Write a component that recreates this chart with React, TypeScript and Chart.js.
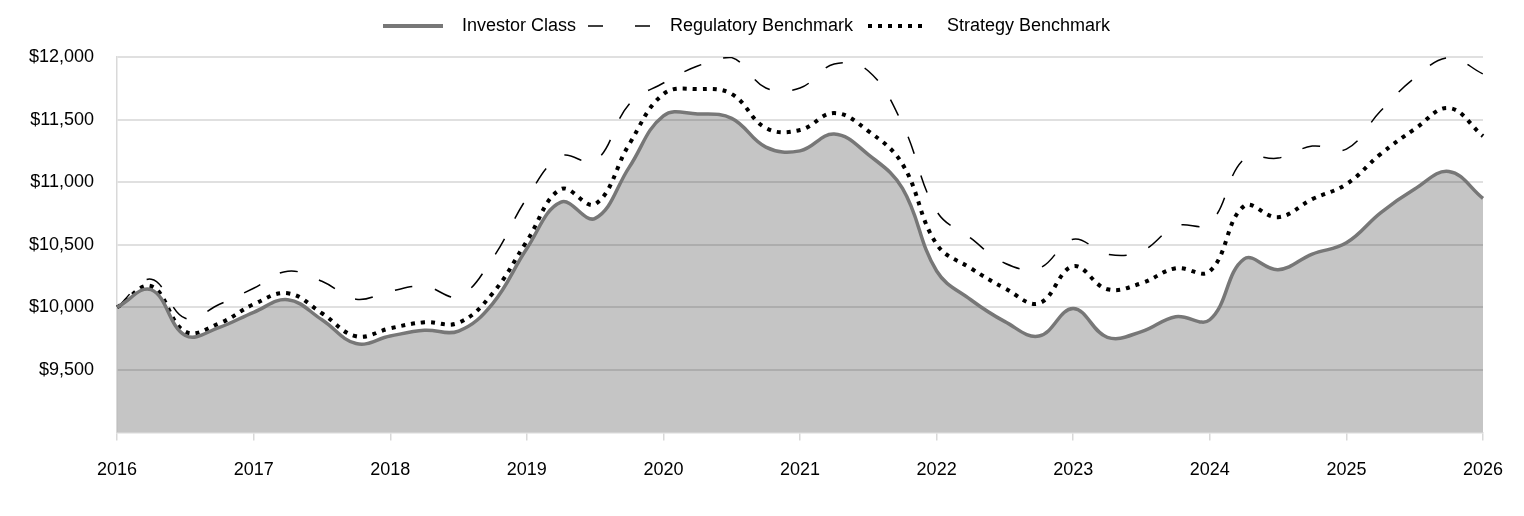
import React, { useEffect, useRef } from 'react';
import { Chart, registerables } from 'chart.js';

Chart.register(...registerables);

const quarters = [
  '2016-01', '2016-04', '2016-07', '2016-10',
  '2017-01', '2017-04', '2017-07', '2017-10',
  '2018-01', '2018-04', '2018-07', '2018-10',
  '2019-01', '2019-04', '2019-07', '2019-10',
  '2020-01', '2020-04', '2020-07', '2020-10',
  '2021-01', '2021-04', '2021-07', '2021-10',
  '2022-01', '2022-04', '2022-07', '2022-10',
  '2023-01', '2023-04', '2023-07', '2023-10',
  '2024-01', '2024-04', '2024-07', '2024-10',
  '2025-01', '2025-04', '2025-07', '2025-10',
  '2026-01',
];

const investorClass = [
  10000, 10140, 9775, 9840,
  9960, 10060, 9900, 9710,
  9770, 9816, 9810, 10030,
  10470, 10840, 10710, 11120,
  11530, 11545, 11510, 11280,
  11250, 11385, 11220, 10950,
  10290, 10060, 9885, 9770,
  9990, 9760, 9805, 9925,
  9900, 10385, 10300, 10425,
  10515, 10755, 10945, 11085,
  10870,
];

const regulatoryBenchmark = [
  10000, 10224, 9912, 10024,
  10152, 10288, 10208, 10064,
  10128, 10168, 10088, 10392,
  10872, 11208, 11168, 11624,
  11792, 11928, 11995, 11752,
  11752, 11944, 11888, 11464,
  10768, 10552, 10352, 10312,
  10544, 10424, 10448, 10648,
  10672, 11184, 11192, 11288,
  11264, 11568, 11832, 11995,
  11864,
];

const strategyBenchmark = [
  10000, 10168, 9805, 9872,
  10024, 10112, 9952, 9768,
  9832, 9880, 9876, 10112,
  10528, 10944, 10824, 11304,
  11704, 11744, 11704, 11432,
  11416, 11552, 11408, 11144,
  10504, 10312, 10152, 10032,
  10328, 10144, 10192, 10312,
  10288, 10808, 10720, 10864,
  10984, 11224, 11424, 11592,
  11368,
];

const yTickValues = [9500, 10000, 10500, 11000, 11500, 12000];
const seriesNames = ['Investor Class', 'Regulatory Benchmark', 'Strategy Benchmark'];

const FONT_FAMILY = '"Liberation Sans", Arial, Helvetica, sans-serif';

const legendItems = [
  { x: 383, len: 60, textX: 462, color: '#777777', width: 4, dash: [] as number[] },
  { x: 588, len: 62, textX: 670, color: '#000000', width: 1.5, dash: [15, 32] },
  { x: 868, len: 58, textX: 947, color: '#000000', width: 4, dash: [4, 6] },
];

const customLegend = {
  id: 'customLegend',
  afterDraw(chart: any) {
    const ctx = chart.ctx as CanvasRenderingContext2D;
    const y = 26;
    ctx.save();
    legendItems.forEach((item, i) => {
      ctx.beginPath();
      ctx.setLineDash(item.dash);
      ctx.lineCap = 'butt';
      ctx.lineWidth = item.width;
      ctx.strokeStyle = item.color;
      ctx.moveTo(item.x, y);
      ctx.lineTo(item.x + item.len, y);
      ctx.stroke();
      ctx.setLineDash([]);
      ctx.fillStyle = '#000000';
      ctx.font = `18px ${FONT_FAMILY}`;
      ctx.textBaseline = 'middle';
      ctx.textAlign = 'left';
      ctx.fillText(seriesNames[i], item.textX, y);
    });
    ctx.restore();
  },
};

export default function App() {
  const canvasRef = useRef<HTMLCanvasElement | null>(null);

  useEffect(() => {
    if (!canvasRef.current) return;
    const chart = new Chart(canvasRef.current, {
      type: 'line',
      data: {
        labels: quarters,
        datasets: [
          {
            label: seriesNames[0],
            data: investorClass,
            borderColor: '#777777',
            borderWidth: 3.5,
            backgroundColor: 'rgba(0,0,0,0.227)',
            fill: 'start',
            pointRadius: 0,
            tension: 0.4,
          },
          {
            label: seriesNames[1],
            data: regulatoryBenchmark,
            borderColor: '#000000',
            borderWidth: 1.5,
            borderDash: [18, 23],
            fill: false,
            pointRadius: 0,
            tension: 0.4,
          },
          {
            label: seriesNames[2],
            data: strategyBenchmark,
            borderColor: '#000000',
            borderWidth: 4,
            borderDash: [4, 6],
            borderCapStyle: 'butt',
            fill: false,
            pointRadius: 0,
            tension: 0.4,
          },
        ],
      },
      options: {
        animation: false,
        responsive: true,
        maintainAspectRatio: false,
        layout: { padding: { top: 57, left: 6, right: 41, bottom: 16 } },
        plugins: {
          legend: { display: false },
          tooltip: { enabled: false },
        },
        scales: {
          x: {
            type: 'category',
            offset: false,
            grid: {
              drawOnChartArea: false,
              drawTicks: true,
              tickLength: 8,
              color: '#d9d9d9',
              lineWidth: 1.5,
            },
            border: { display: true, color: '#d9d9d9', width: 1.5 },
            ticks: {
              autoSkip: false,
              maxRotation: 0,
              minRotation: 0,
              padding: 19,
              color: '#000000',
              font: { family: FONT_FAMILY, size: 18 },
              callback: (_v: any, index: number) => {
                const l = quarters[index];
                return l.endsWith('-01') ? l.slice(0, 4) : null;
              },
            },
          },
          y: {
            min: 9000,
            max: 12000,
            grid: {
              drawTicks: false,
              color: '#e0e0e0',
              lineWidth: 2,
            },
            border: { display: true, color: '#d9d9d9', width: 1.5 },
            ticks: {
              stepSize: 500,
              padding: 23,
              color: '#000000',
              font: { family: FONT_FAMILY, size: 18 },
              callback: (v: any) =>
                yTickValues.includes(Number(v)) ? '$' + Number(v).toLocaleString('en-US') : null,
            },
          },
        },
      },
      plugins: [customLegend],
    });
    return () => chart.destroy();
  }, []);

  return (
    <div style={{ position: 'fixed', left: 0, top: 0, width: 1524, height: 516, background: '#ffffff' }}>
      <canvas ref={canvasRef} />
    </div>
  );
}
